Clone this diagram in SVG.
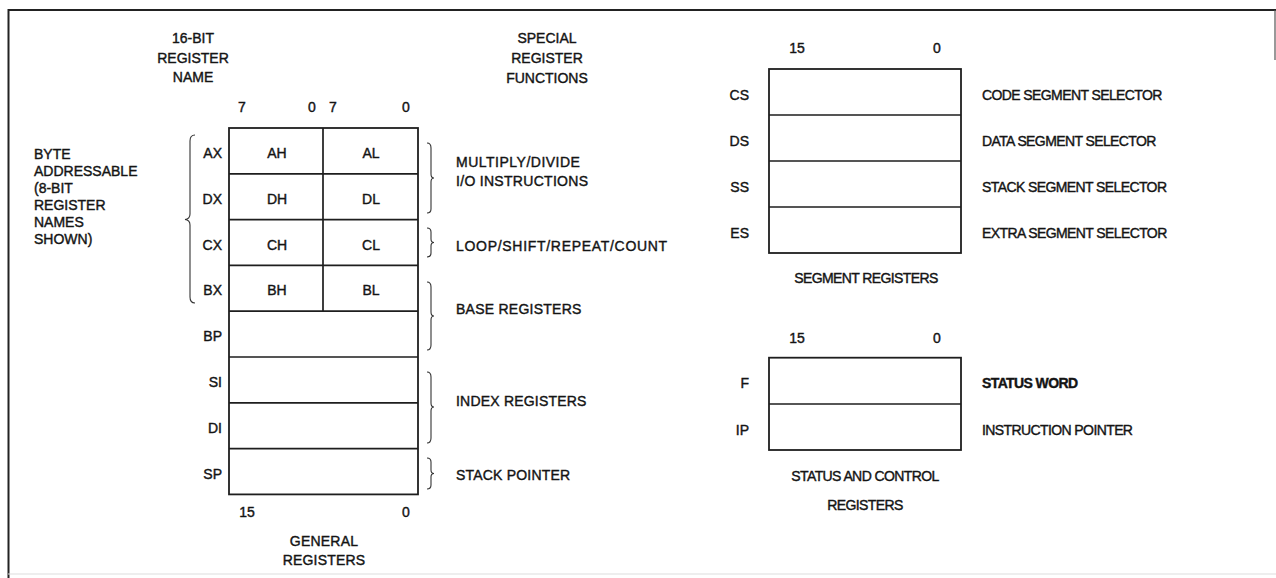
<svg xmlns="http://www.w3.org/2000/svg" width="1276" height="578" viewBox="0 0 1276 578">
<style>
text{font-family:"Liberation Sans",Arial,sans-serif;font-size:14px;fill:#141414;stroke:#141414;stroke-width:0.4}
.m{text-anchor:middle}
.e{text-anchor:end}
.l{letter-spacing:0.2px}
.r{letter-spacing:-0.6px}
.b{font-weight:bold}
.box{fill:#fff;stroke:#1e1e1e;stroke-width:1.8}
.ln{stroke:#1e1e1e;stroke-width:1.7;fill:none}
.br{stroke:#333;stroke-width:1.1;fill:none}
.frame{stroke:#222;stroke-width:2;fill:none}
</style>
<rect width="1276" height="578" fill="#fff"/>
<g id="frame">
<path class="frame" d="M8.5,578 L8.5,10 L1276,10"/>
<path d="M1275,10 L1275,60" stroke="#555" stroke-width="1.2" fill="none"/>
<path d="M8,574 L1276,574" stroke="#ddd" stroke-width="1" fill="none"/>
</g>
<g id="headers">
<text class="m" x="193" y="43">16-BIT</text>
<text class="m" x="193" y="63">REGISTER</text>
<text class="m" x="193" y="82">NAME</text>
<text class="m" x="547" y="43">SPECIAL</text>
<text class="m" x="547" y="63">REGISTER</text>
<text class="m" x="547" y="83">FUNCTIONS</text>
</g>
<g id="byte-addressable">
<text x="34" y="159">BYTE</text>
<text x="34" y="176">ADDRESSABLE</text>
<text x="34" y="193">(8-BIT</text>
<text x="34" y="210">REGISTER</text>
<text x="34" y="227">NAMES</text>
<text x="34" y="244">SHOWN)</text>
</g>
<g id="general-registers">
<text class="m" x="242" y="112">7</text>
<text class="m" x="312" y="112">0</text>
<text class="m" x="333" y="112">7</text>
<text class="m" x="406" y="112">0</text>
<rect class="box" x="229" y="128" width="189" height="366.4"/>
<path class="ln" d="M229,173.8H418M229,219.6H418M229,265.4H418M229,311.2H418M229,357H418M229,402.8H418M229,448.6H418M323,128V311.2"/>
<text class="e" x="222" y="158">AX</text>
<text class="e" x="222" y="204">DX</text>
<text class="e" x="222" y="249.5">CX</text>
<text class="e" x="222" y="295.3">BX</text>
<text class="e" x="222" y="341">BP</text>
<text class="e" x="222" y="387">SI</text>
<text class="e" x="222" y="432.7">DI</text>
<text class="e" x="222" y="478.5">SP</text>
<text class="m" x="277" y="158">AH</text>
<text class="m" x="371" y="158">AL</text>
<text class="m" x="277" y="204">DH</text>
<text class="m" x="371" y="204">DL</text>
<text class="m" x="277" y="249.5">CH</text>
<text class="m" x="371" y="249.5">CL</text>
<text class="m" x="277" y="295.3">BH</text>
<text class="m" x="371" y="295.3">BL</text>
<text class="m" x="247" y="517">15</text>
<text class="m" x="406" y="517">0</text>
<text class="m l" x="324" y="546">GENERAL</text>
<text class="m l" x="324" y="565">REGISTERS</text>
</g>
<g id="braces">
<path class="br" d="M195,135 Q190,135 190,141 L190,214 Q190,219 185,219.5 Q190,220 190,225 L190,297 Q190,303 195,303"/>
<path class="br" d="M427,143 Q431,143 431,148 L431,174 Q431,178 434,178 Q431,178 431,182 L431,209 Q431,213 427,213"/>
<path class="br" d="M427,228 Q431,228 431,232 L431,239 Q431,242.5 434,242.5 Q431,242.5 431,246 L431,253 Q431,257 427,257"/>
<path class="br" d="M427,282 Q431,282 431,287 L431,312 Q431,316 434,316 Q431,316 431,320 L431,345 Q431,350 427,350"/>
<path class="br" d="M427,372 Q431,372 431,377 L431,403 Q431,407 434,407 Q431,407 431,411 L431,438 Q431,443 427,443"/>
<path class="br" d="M427,458 Q431,458 431,462 L431,470 Q431,473.5 434,473.5 Q431,473.5 431,477 L431,485 Q431,489 427,489"/>
</g>
<g id="special-functions">
<text x="456" y="167" style="letter-spacing:0.5px">MULTIPLY/DIVIDE</text>
<text x="456" y="186" style="letter-spacing:0.3px">I/O INSTRUCTIONS</text>
<text x="456" y="251" style="letter-spacing:0.7px">LOOP/SHIFT/REPEAT/COUNT</text>
<text x="456" y="314" style="letter-spacing:0.25px">BASE REGISTERS</text>
<text x="456" y="406" class="l">INDEX REGISTERS</text>
<text x="456" y="480" class="l">STACK POINTER</text>
</g>
<g id="segment-registers">
<text class="m" x="797" y="53">15</text>
<text class="m" x="937" y="53">0</text>
<rect class="box" x="769" y="69" width="192" height="184"/>
<path class="ln" d="M769,115H961M769,161H961M769,207H961"/>
<text class="e" x="749" y="100">CS</text>
<text class="e" x="749" y="146">DS</text>
<text class="e" x="749" y="192">SS</text>
<text class="e" x="749" y="238">ES</text>
<text class="r" x="982" y="100">CODE SEGMENT SELECTOR</text>
<text class="r" x="982" y="146">DATA SEGMENT SELECTOR</text>
<text class="r" x="982" y="192">STACK SEGMENT SELECTOR</text>
<text class="r" x="982" y="238">EXTRA SEGMENT SELECTOR</text>
<text class="m r" x="866" y="283">SEGMENT REGISTERS</text>
</g>
<g id="status-control-registers">
<text class="m" x="797" y="342.5">15</text>
<text class="m" x="937" y="342.5">0</text>
<rect class="box" x="769" y="357.7" width="192" height="92.3"/>
<path class="ln" d="M769,404H961"/>
<text class="e" x="749" y="388">F</text>
<text class="e" x="749" y="434.5">IP</text>
<text class="r b" x="982" y="388">STATUS WORD</text>
<text class="r" x="982" y="434.5">INSTRUCTION POINTER</text>
<text class="m r" x="865" y="481">STATUS AND CONTROL</text>
<text class="m r" x="865" y="510">REGISTERS</text>
</g>
</svg>
